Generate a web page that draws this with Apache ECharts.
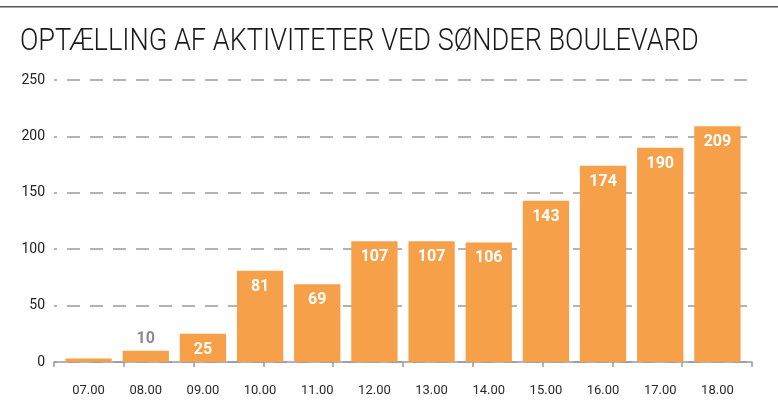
<!DOCTYPE html>
<html lang="da">
<head>
  <meta charset="UTF-8">
  <title>Optælling af aktiviteter ved Sønder Boulevard</title>
  <script src="https://cdn.jsdelivr.net/npm/echarts@6/dist/echarts.min.js"></script>
  <style>
    body { margin: 0; background: #fff; }
    #chart { width: 778px; height: 415px; }
  </style>
</head>
<body>
  <div id="chart"></div>
  <script>
    // data
    const hours = ['07.00', '08.00', '09.00', '10.00', '11.00', '12.00', '13.00', '14.00', '15.00', '16.00', '17.00', '18.00'];
    const counts = [3, 10, 25, 81, 69, 107, 107, 106, 143, 174, 190, 209];
    const yTicks = [0, 50, 100, 150, 200, 250];

    const orange = '#F7A04A';
    const grey = '#9a9a9a';

    const barData = counts.map((v, i) => {
      if (i === 0) return { value: v, label: { show: false } };
      if (v < 20) {
        return { value: v, label: { show: true, position: 'top', color: '#8c8c8c', distance: 4 } };
      }
      return v;
    });

    const chart = echarts.init(document.getElementById('chart'));
    chart.setOption({
      animation: false,
      graphic: [
        {
          type: 'rect',
          shape: { x: 0, y: 6, width: 778, height: 1.5 },
          style: { fill: '#555' }
        },
        {
          type: 'text',
          left: 20,
          top: 27,
          scaleX: 0.875,
          style: {
            text: 'OPTÆLLING AF AKTIVITETER VED SØNDER BOULEVARD',
            font: '300 31px Roboto, sans-serif',
            fill: '#1a1a1a'
          }
        }
      ],
      grid: [
        { left: 54, right: 26, top: 80, bottom: 53 },   // axis frame
        { left: 60, right: 32, top: 80, bottom: 53 }    // bars
      ],
      xAxis: [
        {
          // outer axis line with its 10 evenly spaced ticks
          type: 'value', gridIndex: 0, min: 0, max: 10, interval: 1,
          axisLine: { show: true, lineStyle: { color: grey, width: 1.5 } },
          axisTick: { show: true, length: 5, lineStyle: { color: grey, width: 1.5 } },
          axisLabel: { show: false },
          splitLine: { show: false }
        },
        {
          type: 'category', gridIndex: 1, data: hours,
          axisLine: { show: false },
          axisTick: { show: false },
          axisLabel: { color: '#2a2a2a', fontSize: 13, margin: 22, fontFamily: 'Roboto, sans-serif' }
        }
      ],
      yAxis: [
        {
          type: 'value', gridIndex: 0,
          min: yTicks[0], max: yTicks[yTicks.length - 1], interval: 50,
          axisLine: { show: false },
          axisTick: { show: false },
          axisLabel: { color: '#222', fontSize: 14, margin: 9, fontFamily: 'Roboto, sans-serif' },
          splitLine: { lineStyle: { color: grey, type: [13, 10], dashOffset: 10, width: 1.5 } }
        },
        {
          type: 'value', gridIndex: 1,
          min: yTicks[0], max: yTicks[yTicks.length - 1], interval: 50,
          show: false,
          splitLine: { show: false }
        }
      ],
      series: [{
        type: 'bar',
        xAxisIndex: 1,
        yAxisIndex: 1,
        data: barData,
        barCategoryGap: '19%',
        itemStyle: { color: orange },
        label: {
          show: true,
          position: 'insideTop',
          distance: 8,
          color: '#fff',
          fontWeight: 'bold',
          fontSize: 16,
          fontFamily: 'Roboto, sans-serif'
        }
      }]
    });
  </script>
</body>
</html>
